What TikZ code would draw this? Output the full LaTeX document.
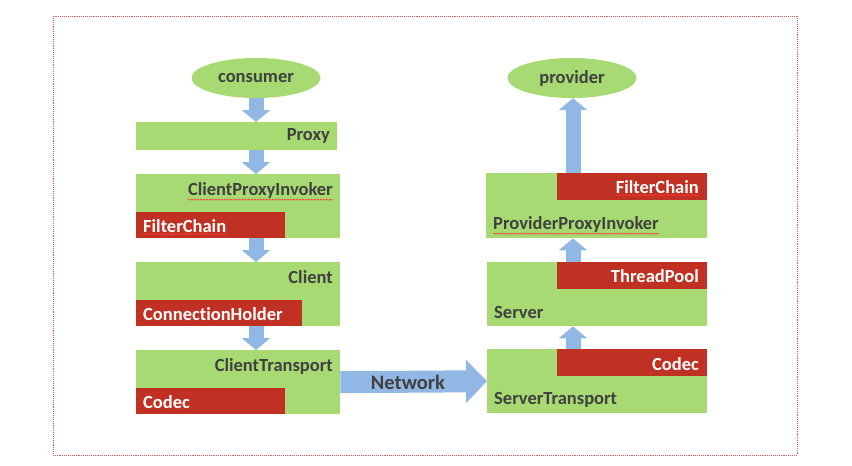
\documentclass[tikz,border=0pt]{standalone}
\usepackage{fontspec}
\setmainfont{Carlito}[RawFeature=-liga]
\usetikzlibrary{arrows.meta,shapes.geometric,decorations.pathmorphing}
\definecolor{boxgreen}{RGB}{168,218,115}
\definecolor{boxred}{RGB}{192,49,36}
\definecolor{arrblue}{RGB}{145,183,228}
\definecolor{txtgray}{RGB}{64,64,64}
\definecolor{framered}{RGB}{225,90,90}
\begin{document}
\begin{tikzpicture}[x=1pt,y=-1pt,
  font=\fontsize{18.5}{20}\selectfont\bfseries,
  gbox/.style={fill=boxgreen,draw=none,inner sep=0pt,anchor=north west},
  rbox/.style={fill=boxred,draw=none,inner sep=0pt,anchor=north west},
  gtext/.style={text=txtgray,inner sep=0pt},
  wtext/.style={text=white,inner sep=0pt},
  oval/.style={ellipse,fill=boxgreen,draw=none,minimum width=129pt,minimum height=40pt,inner sep=0pt,text=txtgray},
  downarr/.style={arrblue,line width=15pt,-{Triangle[width=28pt,length=12pt]}},
  netarr/.style={arrblue,line width=22pt,-{Triangle[width=42pt,length=21pt]}},
  spell/.style={draw=red!80,line width=0.5pt,decorate,decoration={snake,amplitude=0.7pt,segment length=3pt}}
]
\useasboundingbox (0,0) rectangle (852,466);
\fill[white] (0,0) rectangle (852,466);
\draw[framered,densely dotted,line width=0.9pt] (53,16) rectangle (797,455);

% left column
\node[oval] (consumer) at (256,78) {consumer};
\node[gbox,minimum width=201pt,minimum height=28pt] (proxy) at (136,122) {};
\node[gtext,anchor=east] (proxyt) at (330,136) {Proxy};

\node[gbox,minimum width=204pt,minimum height=64pt] (cpi) at (136,174) {};
\node[rbox,minimum width=149pt,minimum height=26pt] (cpifc) at (136,212) {};
\node[gtext,anchor=east] (cpit) at (333,190) {ClientProxyInvoker};
\node[wtext,anchor=west] (cpifct) at (143,226) {FilterChain};

\node[gbox,minimum width=204pt,minimum height=64pt] (client) at (136,262) {};
\node[rbox,minimum width=166pt,minimum height=26pt] (clientch) at (136,300) {};
\node[gtext,anchor=east] (clientt) at (333,277) {Client};
\node[wtext,anchor=west] (clientcht) at (143,314) {ConnectionHolder};

\node[gbox,minimum width=204pt,minimum height=64pt] (ct) at (136,350) {};
\node[rbox,minimum width=149pt,minimum height=26pt] (ctc) at (136,388) {};
\node[gtext,anchor=east] (ctt) at (333,366) {ClientTransport};
\node[wtext,anchor=west] (ctct) at (143,402) {Codec};

% right column
\node[oval] (provider) at (572,78) {provider};
\node[gbox,minimum width=221pt,minimum height=65pt] (ppi) at (486,173) {};
\node[rbox,minimum width=150pt,minimum height=27pt] (ppifc) at (557,173) {};
\node[wtext,anchor=east] (ppifct) at (699,187) {FilterChain};
\node[gtext,anchor=west] (ppit) at (493,224) {ProviderProxyInvoker};

\node[gbox,minimum width=220pt,minimum height=64pt] (server) at (487,262) {};
\node[rbox,minimum width=150pt,minimum height=27pt] (servertp) at (557,262) {};
\node[wtext,anchor=east] (servertpt) at (699,276) {ThreadPool};
\node[gtext,anchor=west] (servert) at (494,312) {Server};

\node[gbox,minimum width=220pt,minimum height=64pt] (st) at (487,349) {};
\node[rbox,minimum width=150pt,minimum height=27pt] (stc) at (557,349) {};
\node[wtext,anchor=east] (stct) at (699,364) {Codec};
\node[gtext,anchor=west] (stt) at (494,400) {ServerTransport};

\coordinate (rx) at (573,0);

% spell-check underlines
\draw[spell] ([yshift=-1.5pt]cpit.south west) -- ([yshift=-1.5pt]cpit.south east);
\draw[spell] ([yshift=-1.5pt]cpifct.south west) -- ([yshift=-1.5pt]cpifct.south east);
\draw[spell] ([yshift=-1.5pt]ppifct.south west) -- ([yshift=-1.5pt]ppifct.south east);
\draw[spell] ([yshift=-1.5pt]ppit.south west) -- ([yshift=-1.5pt]ppit.south east);

% arrows
\draw[downarr] (consumer.south) -- (proxy.north -| consumer);
\draw[downarr] (proxy.south -| consumer) -- (cpi.north -| consumer);
\draw[downarr] (cpi.south -| consumer) -- (client.north -| consumer);
\draw[downarr] (client.south -| consumer) -- (ct.north -| consumer);
\draw[netarr] (ct.east) -- (st.west);
\node[gtext,font=\fontsize{20.5}{22}\selectfont\bfseries] (net) at (408,382) {Network};
\draw[downarr] (st.north -| rx) -- (server.south -| rx);
\draw[downarr] (server.north -| rx) -- (ppi.south -| rx);
\draw[downarr] (ppi.north -| rx) -- (provider.south -| rx);
\end{tikzpicture}
\end{document}
